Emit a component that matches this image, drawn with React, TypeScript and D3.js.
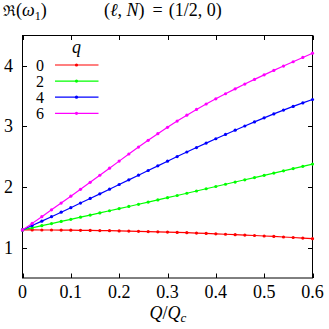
import React from "react";
import * as d3 from "d3";

// Q/Q_c sample points
const qValues = [
  0, 0.02, 0.04, 0.06, 0.08, 0.1, 0.12, 0.14, 0.16, 0.18, 0.2, 0.22, 0.24, 0.26, 0.28, 0.3,
  0.32, 0.34, 0.36, 0.38, 0.4, 0.42, 0.44, 0.46, 0.48, 0.5, 0.52, 0.54, 0.56, 0.58, 0.6,
];

// Re(omega_1) for each q
const seriesQ0 = [
  1.293, 1.293, 1.292, 1.292, 1.29, 1.289, 1.287, 1.285, 1.283, 1.28, 1.277, 1.274, 1.27, 1.266,
  1.262, 1.257, 1.252, 1.247, 1.241, 1.235, 1.229, 1.222, 1.215, 1.208, 1.201, 1.193, 1.185,
  1.176, 1.168, 1.158, 1.149,
];
const seriesQ2 = [
  1.293, 1.328, 1.363, 1.398, 1.433, 1.468, 1.503, 1.538, 1.574, 1.609, 1.645, 1.68, 1.716, 1.752,
  1.788, 1.825, 1.861, 1.898, 1.935, 1.972, 2.009, 2.046, 2.083, 2.12, 2.157, 2.194, 2.231, 2.268,
  2.305, 2.342, 2.379,
];
const seriesQ4 = [
  1.293, 1.365, 1.438, 1.511, 1.585, 1.66, 1.736, 1.812, 1.888, 1.965, 2.042, 2.119, 2.196,
  2.273, 2.35, 2.427, 2.503, 2.578, 2.652, 2.725, 2.797, 2.868, 2.938, 3.007, 3.075, 3.142, 3.207,
  3.27, 3.33, 3.388, 3.444,
];
const seriesQ6 = [
  1.293, 1.401, 1.512, 1.624, 1.736, 1.849, 1.963, 2.078, 2.195, 2.312, 2.428, 2.545, 2.659,
  2.771, 2.88, 2.986, 3.088, 3.186, 3.28, 3.37, 3.456, 3.539, 3.62, 3.699, 3.776, 3.851, 3.924,
  3.996, 4.067, 4.138, 4.208,
];

const legendLabels = ["0", "2", "4", "6"];
const colors = ["#ff0000", "#00ff00", "#0000ff", "#ff00ff"];
const xTicks = [0, 0.1, 0.2, 0.3, 0.4, 0.5, 0.6];
const yTicks = [1, 2, 3, 4];

const W = 329;
const H = 329;
const left = 22.5;
const right = 312.5;
const top = 35.5;
const bottom = 278;
const serif = { fontFamily: "'Liberation Serif', 'Times New Roman', Times, serif" };
const dejavu = { fontFamily: "'DejaVu Serif', serif" };

export default function App() {
  const x = d3.scaleLinear().domain([0, 0.6]).range([left, right]);
  const y = d3.scaleLinear().domain([0.5, 4.5]).range([bottom, top]);
  const allSeries = [seriesQ0, seriesQ2, seriesQ4, seriesQ6];

  const line = d3
    .line<number>()
    .x((_, i) => x(qValues[i]))
    .y((d) => y(d));

  const tickLen = 4.5;

  return (
    <svg width={W} height={H} style={{ position: "fixed", left: 0, top: 0, background: "#fff" }}>
      {/* frame */}
      <rect x={left} y={top} width={right - left} height={bottom - top} fill="none" stroke="#000" strokeWidth={1} />

      {/* x ticks, bottom and mirrored on top */}
      {xTicks.map((t) => (
        <g key={`x${t}`}>
          <line x1={Math.round(x(t)) + 0.5} x2={Math.round(x(t)) + 0.5} y1={bottom} y2={bottom - tickLen} stroke="#000" />
          <line x1={Math.round(x(t)) + 0.5} x2={Math.round(x(t)) + 0.5} y1={top} y2={top + tickLen} stroke="#000" />
          <text x={x(t)} y={298} fontSize={18} textAnchor="middle" style={serif}>
            {t === 0 ? "0" : t.toFixed(1)}
          </text>
        </g>
      ))}

      {/* y ticks, left and mirrored on right */}
      {yTicks.map((t) => (
        <g key={`y${t}`}>
          <line x1={left} x2={left + tickLen} y1={Math.round(y(t)) + 0.5} y2={Math.round(y(t)) + 0.5} stroke="#000" />
          <line x1={right} x2={right - tickLen} y1={Math.round(y(t)) + 0.5} y2={Math.round(y(t)) + 0.5} stroke="#000" />
          <text x={13} y={y(t) + 6} fontSize={18} textAnchor="end" style={serif}>
            {t}
          </text>
        </g>
      ))}

      {/* curves */}
      {allSeries.map((s, k) => (
        <g key={`s${k}`}>
          <path d={line(s) ?? ""} fill="none" stroke={colors[k]} strokeWidth={1.2} />
          {s.map((v, i) => (
            <circle key={i} cx={x(qValues[i])} cy={y(v)} r={1.6} fill={colors[k]} />
          ))}
        </g>
      ))}

      {/* legend */}
      <text x={76.5} y={53} fontSize={18} fontStyle="italic" textAnchor="middle" style={serif}>
        q
      </text>
      {legendLabels.map((lab, k) => {
        const ly = 65 + k * 16.1;
        return (
          <g key={`l${k}`}>
            <text x={40} y={ly + 5.5} fontSize={16} textAnchor="middle" style={serif}>
              {lab}
            </text>
            <line x1={55} x2={98.5} y1={ly} y2={ly} stroke={colors[k]} strokeWidth={1.2} />
            <circle cx={76.5} cy={ly} r={1.6} fill={colors[k]} />
          </g>
        );
      })}

      {/* titles */}
      <text x={3} y={16} fontSize={18} style={serif}>
        <tspan style={dejavu} fontSize={15}>ℜ</tspan>
        <tspan>(</tspan>
        <tspan fontStyle="italic">ω</tspan>
        <tspan fontSize={12} dy={4}>1</tspan>
        <tspan dy={-4}>)</tspan>
      </text>
      <text x={104} y={16} fontSize={18} style={serif}>
        <tspan>(</tspan>
        <tspan fontStyle="italic">ℓ</tspan>
        <tspan>, </tspan>
        <tspan fontStyle="italic">N</tspan>
        <tspan>)</tspan>
        <tspan dx={8}>=</tspan>
        <tspan dx={6}>(1/2, 0)</tspan>
      </text>
      <text x={168} y={319} fontSize={18} textAnchor="middle" style={serif}>
        <tspan fontStyle="italic">Q</tspan>
        <tspan>/</tspan>
        <tspan fontStyle="italic">Q</tspan>
        <tspan fontStyle="italic" fontSize={13} dy={3}>c</tspan>
      </text>
    </svg>
  );
}
